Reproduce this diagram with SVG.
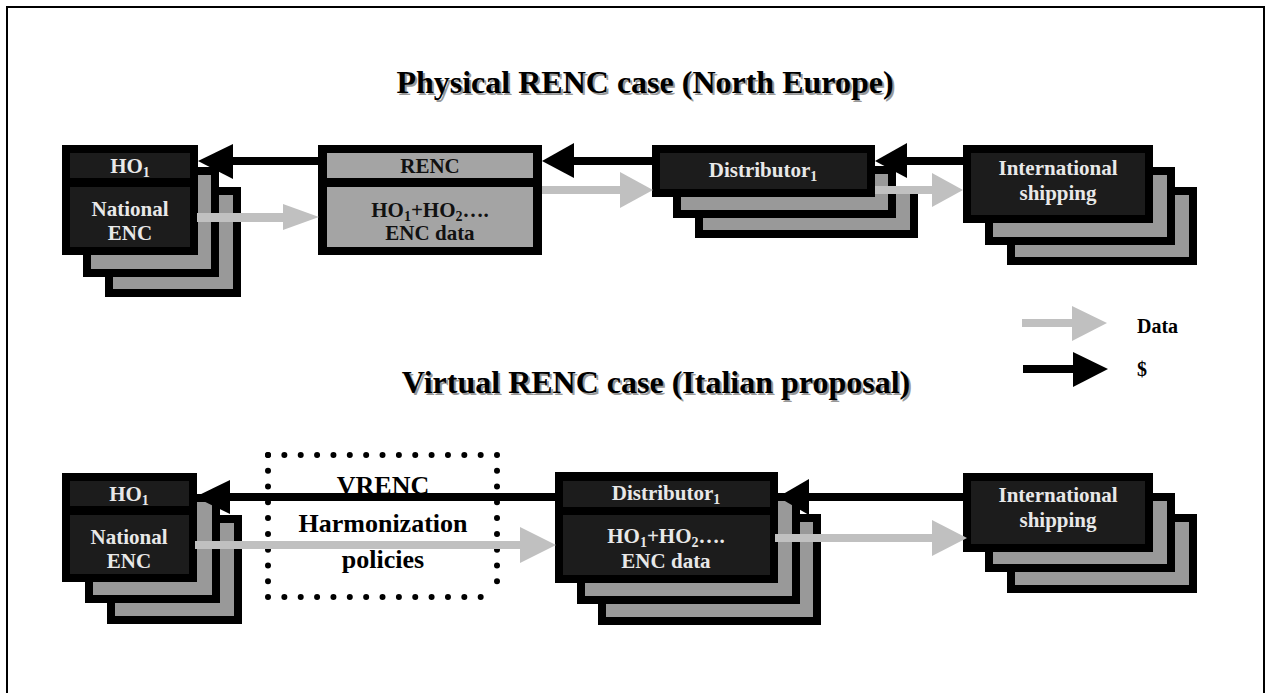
<svg xmlns="http://www.w3.org/2000/svg" width="1271" height="693" viewBox="0 0 1271 693">
<style>
.t{font-family:"Liberation Serif","Times New Roman",serif;font-weight:bold;}
.nt{font-size:21px;fill:#e8e8e8;text-anchor:middle;}
.dk{font-size:21px;fill:#111;text-anchor:middle;}
.title{font-size:32px;text-anchor:middle;}
.ob{fill:#000;}
.in{fill:#1c1c1c;}
.sg{fill:#999;}
.rg{fill:#a4a4a4;}
.ga{fill:#c0c0c0;}
.ba{fill:#000;}
.dots{stroke:#000;stroke-width:6;stroke-linecap:round;fill:none;}
</style>
<rect x="0" y="0" width="1271" height="693" fill="#fff"/>
<rect x="7" y="7" width="1257" height="700" fill="none" stroke="#000" stroke-width="2"/>

<g id="titles" class="t title">
<text x="647" y="95" fill="#999">Physical RENC case (North Europe)</text>
<text x="645" y="93" fill="#000">Physical RENC case (North Europe)</text>
<text x="658" y="395" fill="#999">Virtual RENC case (Italian proposal)</text>
<text x="656" y="393" fill="#000">Virtual RENC case (Italian proposal)</text>
</g>

<!-- Top row -->
<g id="ho1-top">
<rect class="ob" x="105" y="187" width="136" height="110"/><rect class="sg" x="113" y="195" width="120" height="94"/>
<rect class="ob" x="83" y="167" width="136" height="110"/><rect class="sg" x="91" y="175" width="120" height="94"/>
<rect class="ob" x="62" y="145" width="136" height="110"/>
<rect class="in" x="70" y="153" width="120" height="25"/>
<rect class="in" x="70" y="187" width="120" height="60"/>
<text class="t nt" x="130" y="173">HO<tspan font-size="14" dy="4">1</tspan></text>
<text class="t nt" x="130" y="216">National</text>
<text class="t nt" x="130" y="240">ENC</text>
</g>

<g id="renc">
<rect class="ob" x="318" y="145" width="224" height="110"/>
<rect class="rg" x="327" y="153" width="206" height="25"/>
<rect class="rg" x="327" y="187" width="206" height="60"/>
<text class="t dk" x="430" y="173">RENC</text>
<text class="t dk" x="430" y="217">HO<tspan font-size="14" dy="4">1</tspan><tspan dy="-4">+HO</tspan><tspan font-size="14" dy="4">2</tspan><tspan dy="-4">….</tspan></text>
<text class="t dk" x="430" y="240">ENC data</text>
</g>

<g id="distributor-top">
<rect class="ob" x="695" y="186" width="223" height="52"/><rect class="sg" x="703" y="194" width="207" height="36"/>
<rect class="ob" x="673" y="166" width="223" height="52"/><rect class="sg" x="681" y="174" width="207" height="36"/>
<rect class="ob" x="652" y="145" width="223" height="52"/>
<rect class="in" x="660" y="153" width="207" height="36"/>
<text class="t nt" x="763" y="177">Distributor<tspan font-size="14" dy="4">1</tspan></text>
</g>

<g id="intl-top">
<rect class="ob" x="1007" y="187" width="190" height="78"/><rect class="sg" x="1015" y="195" width="174" height="62"/>
<rect class="ob" x="985" y="167" width="190" height="78"/><rect class="sg" x="993" y="175" width="174" height="62"/>
<rect class="ob" x="963" y="145" width="190" height="78"/>
<rect class="in" x="971" y="153" width="174" height="62"/>
<text class="t nt" x="1058" y="175">International</text>
<text class="t nt" x="1058" y="200">shipping</text>
</g>

<!-- Bottom row -->
<g id="ho1-bottom">
<rect class="ob" x="107" y="515" width="135" height="109"/><rect class="sg" x="115" y="523" width="119" height="93"/>
<rect class="ob" x="85" y="494" width="135" height="109"/><rect class="sg" x="93" y="502" width="119" height="93"/>
<rect class="ob" x="62" y="473" width="135" height="109"/>
<rect class="in" x="70" y="481" width="119" height="25"/>
<rect class="in" x="70" y="515" width="119" height="59"/>
<text class="t nt" x="129" y="501">HO<tspan font-size="14" dy="4">1</tspan></text>
<text class="t nt" x="129" y="544">National</text>
<text class="t nt" x="129" y="568">ENC</text>
</g>

<g id="vrenc">
<line class="dots" x1="268" y1="455" x2="497" y2="455" stroke-dasharray="0 16.36"/>
<line class="dots" x1="268" y1="597" x2="497" y2="597" stroke-dasharray="0 16.36"/>
<line class="dots" x1="268" y1="455" x2="268" y2="597" stroke-dasharray="0 15.78"/>
<line class="dots" x1="497" y1="455" x2="497" y2="597" stroke-dasharray="0 15.78"/>
<text class="t" x="383" y="494" font-size="26" text-anchor="middle" fill="#000">VRENC</text>
<text class="t" x="383" y="532" font-size="26" text-anchor="middle" fill="#000">Harmonization</text>
<text class="t" x="383" y="568" font-size="26" text-anchor="middle" fill="#000">policies</text>
</g>

<g id="distributor-bottom">
<rect class="ob" x="598" y="514" width="223" height="111"/><rect class="sg" x="606" y="522" width="207" height="95"/>
<rect class="ob" x="577" y="493" width="223" height="111"/><rect class="sg" x="585" y="501" width="207" height="95"/>
<rect class="ob" x="555" y="472" width="223" height="111"/>
<rect class="in" x="563" y="481" width="207" height="26"/>
<rect class="in" x="563" y="515" width="207" height="60"/>
<text class="t nt" x="666" y="500">Distributor<tspan font-size="14" dy="4">1</tspan></text>
<text class="t nt" x="666" y="543">HO<tspan font-size="14" dy="4">1</tspan><tspan dy="-4">+HO</tspan><tspan font-size="14" dy="4">2</tspan><tspan dy="-4">….</tspan></text>
<text class="t nt" x="666" y="568">ENC data</text>
</g>

<g id="intl-bottom">
<rect class="ob" x="1007" y="514" width="190" height="79"/><rect class="sg" x="1015" y="522" width="174" height="63"/>
<rect class="ob" x="985" y="493" width="190" height="79"/><rect class="sg" x="993" y="501" width="174" height="63"/>
<rect class="ob" x="963" y="473" width="190" height="79"/>
<rect class="in" x="971" y="481" width="174" height="63"/>
<text class="t nt" x="1058" y="502">International</text>
<text class="t nt" x="1058" y="527">shipping</text>
</g>

<!-- Connectors -->
<g id="connectors">
<!-- top: money (black) -->
<rect class="ba" x="232" y="157" width="86" height="8"/>
<polygon class="ba" points="198,161 233,144 233,179"/>
<rect class="ba" x="573" y="157" width="79" height="8"/>
<polygon class="ba" points="542,161 574,143 574,178"/>
<rect class="ba" x="906" y="157" width="57" height="8"/>
<polygon class="ba" points="875,161 907,143 907,178"/>
<!-- top: data (gray) -->
<rect class="ga" x="197" y="213" width="87" height="9"/>
<polygon class="ga" points="283,204 319,217 283,230"/>
<rect class="ga" x="542" y="186" width="79" height="8"/>
<polygon class="ga" points="620,172 653,190 620,208"/>
<rect class="ga" x="875" y="186" width="58" height="8"/>
<polygon class="ga" points="932,173 963,190 932,207"/>
<!-- bottom: money -->
<rect class="ba" x="229" y="493" width="326" height="8"/>
<polygon class="ba" points="195,497 230,480 230,514"/>
<rect class="ba" x="808" y="493" width="155" height="8"/>
<polygon class="ba" points="778,497 809,479 809,515"/>
<!-- bottom: data -->
<rect class="ga" x="195" y="541" width="326" height="8"/>
<polygon class="ga" points="520,527 556,545 520,563"/>
<rect class="ga" x="775" y="534" width="158" height="8"/>
<polygon class="ga" points="932,520 967,538 932,556"/>
</g>

<g id="legend">
<rect class="ga" x="1022" y="319" width="51" height="8"/>
<polygon class="ga" points="1072,306 1107,323 1072,341"/>
<text class="t" x="1137" y="333" font-size="20" fill="#000">Data</text>
<rect class="ba" x="1023" y="365" width="51" height="8"/>
<polygon class="ba" points="1073,352 1108,369 1073,387"/>
<text class="t" x="1137" y="376" font-size="20" fill="#000">$</text>
</g>
</svg>
